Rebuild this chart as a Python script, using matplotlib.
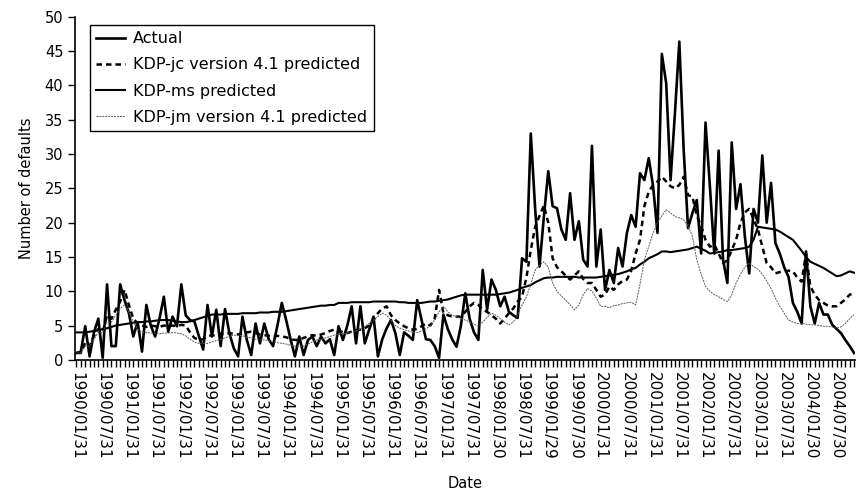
import matplotlib
matplotlib.use('Agg')
import matplotlib.pyplot as plt
from matplotlib.ticker import MultipleLocator

# monthly values, 1990/01 .. 2004/11
actual = [1.0, 1.2, 4.9, 0.5, 4.0, 6.0, 0.3, 11.0, 2.0, 2.0, 11.0, 8.7,
          6.8, 3.4, 5.5, 1.2, 8.0, 5.0, 3.4, 6.0, 9.2, 4.1, 6.3, 4.9,
          11.0, 6.5, 5.8, 5.6, 3.5, 1.5, 8.0, 3.4, 7.3, 2.0, 7.4, 3.9,
          1.7, 0.5, 6.3, 2.9, 0.7, 5.3, 2.4, 5.3, 3.0, 2.0, 5.0, 8.3,
          5.8, 3.0, 0.5, 3.4, 0.7, 2.9, 3.4, 2.0, 3.4, 2.4, 3.0, 0.7,
          4.9, 2.9, 5.0, 7.8, 2.4, 7.8, 2.4, 4.4, 6.3, 0.5, 3.0, 4.6,
          5.8, 3.9, 0.7, 4.0, 3.5, 2.9, 8.7, 5.8, 3.0, 2.9, 2.0, 0.3,
          6.6, 4.5, 3.0, 1.9, 5.0, 9.7, 6.0, 4.0, 2.9, 13.1, 7.3, 11.7,
          10.2, 7.8, 9.2, 7.0, 6.5, 6.1, 14.8, 14.3, 33.0, 22.0, 13.6, 20.9,
          27.5, 22.4, 22.1, 19.0, 17.5, 24.3, 17.5, 20.2, 14.6, 13.6, 31.2, 13.6,
          19.0, 10.2, 13.1, 11.2, 16.3, 13.6, 18.5, 21.1, 19.4, 27.2, 26.2, 29.4,
          25.3, 18.5, 44.6, 40.3, 26.2, 36.0, 46.4, 30.6, 19.2, 21.4, 23.3, 15.5,
          34.6, 25.3, 15.5, 30.5, 14.6, 11.2, 31.7, 22.0, 25.6, 18.0, 12.6, 22.0,
          20.0, 29.8, 20.0, 25.8, 17.0, 15.5, 13.5, 12.1, 8.3, 7.0, 5.3, 15.8,
          7.8, 5.3, 8.3, 6.6, 6.6, 5.1, 4.5, 3.9, 2.9, 2.0, 1.0]

kdp_jc = [1.0, 1.0, 2.5, 2.0, 3.5, 4.5, 4.0, 6.5, 6.0, 7.3, 8.5, 10.2,
          8.0, 6.0, 5.3, 5.0, 4.8, 5.0, 4.9, 4.8, 5.0, 4.9, 5.0, 4.9,
          5.1, 5.0, 4.0, 3.2, 2.9, 3.0, 3.4, 3.6, 3.5, 3.8, 3.7, 3.9,
          3.8, 3.7, 3.9, 4.0, 4.1, 3.9, 3.7, 3.6, 3.5, 3.4, 3.5, 3.4,
          3.3, 3.0, 2.9, 2.9, 3.2, 3.4, 3.6, 3.5, 3.7, 3.9, 4.2, 4.4,
          4.3, 4.0, 3.9, 4.1, 4.3, 4.4, 4.6, 5.0, 5.8, 6.8, 7.5, 7.8,
          6.5, 5.8, 5.3, 4.9, 4.6, 4.4, 4.5, 4.9, 5.3, 5.0, 6.0, 10.2,
          6.8, 6.5, 6.3, 6.3, 6.3, 7.0, 7.8, 8.3, 8.0, 7.3, 7.0, 6.5,
          6.0, 5.3, 6.0, 6.8, 7.5, 8.5, 9.2, 12.0, 16.0, 19.4, 21.0, 22.5,
          20.0, 14.8, 13.5, 12.9, 12.3, 11.7, 12.3, 12.9, 11.8, 11.2, 11.2, 10.2,
          9.2, 9.5, 10.7, 10.2, 11.0, 11.5, 11.7, 13.0, 15.5, 17.5, 22.4, 24.5,
          25.5, 26.0, 26.7, 26.0, 25.3, 25.0, 25.5, 26.7, 24.0, 23.8, 21.0, 19.5,
          17.5, 16.5, 16.8, 15.5, 14.1, 14.5, 16.0, 17.5, 20.0, 21.5, 22.0, 20.5,
          19.0, 16.5, 14.1, 13.5, 12.6, 12.8, 12.9, 13.0, 12.9, 12.0, 11.4, 15.5,
          10.7, 9.5, 8.7, 8.3, 7.9, 7.8, 7.8, 8.3, 8.8, 9.5, 9.7]

kdp_ms = [4.0, 4.0, 4.0, 4.1, 4.2, 4.3, 4.5, 4.6, 4.8, 5.0, 5.1, 5.2,
          5.3, 5.4, 5.5, 5.5, 5.6, 5.6, 5.7, 5.8, 5.8, 5.8, 5.7, 5.6,
          5.5, 5.5, 5.6, 5.8, 6.0, 6.2, 6.4, 6.6, 6.6, 6.6, 6.7, 6.7,
          6.7, 6.7, 6.8, 6.8, 6.8, 6.8, 6.9, 6.9, 6.9, 7.0, 7.0, 7.0,
          7.1, 7.2, 7.3, 7.4, 7.5, 7.6, 7.7, 7.8, 7.9, 7.9, 8.0, 8.0,
          8.3, 8.3, 8.3, 8.4, 8.4, 8.4, 8.4, 8.4, 8.5, 8.5, 8.5, 8.5,
          8.5, 8.5, 8.4, 8.4, 8.3, 8.3, 8.3, 8.3, 8.4, 8.5, 8.5, 8.6,
          8.7, 8.8, 9.0, 9.2, 9.4, 9.5, 9.5, 9.5, 9.5, 9.5, 9.5, 9.5,
          9.5, 9.6, 9.7, 9.8, 10.0, 10.2, 10.5, 10.7, 10.9, 11.3, 11.6, 11.9,
          12.0, 12.0, 12.1, 12.1, 12.1, 12.1, 12.1, 12.0, 12.0, 12.0, 12.0, 12.0,
          12.1, 12.2, 12.3, 12.4, 12.5, 12.7, 12.9, 13.2, 13.4, 13.9, 14.3, 14.8,
          15.1, 15.4, 15.8, 15.8, 15.7, 15.8, 15.9, 16.0, 16.1, 16.3, 16.5, 16.2,
          15.9, 15.5, 15.6, 15.7, 15.8, 16.0, 16.0, 16.1, 16.2, 16.3, 16.5, 17.5,
          19.4, 19.3, 19.2, 19.1, 19.0, 18.7, 18.3, 17.9, 17.5, 16.7, 15.9, 15.0,
          14.3, 14.0, 13.7, 13.4, 13.0, 12.6, 12.2, 12.3, 12.6, 12.9, 12.7]

kdp_jm = [1.0, 1.0, 2.0, 2.0, 3.0, 4.0, 4.0, 5.5, 5.5, 6.5, 7.5, 8.0,
          7.0, 5.5, 4.5, 4.0, 4.0, 3.9, 3.9, 3.8, 3.9, 3.9, 4.0, 3.9,
          3.8, 3.5, 3.0, 2.6, 2.4, 2.4, 2.4, 2.6, 2.8, 3.0, 3.2, 3.4,
          3.6, 3.6, 3.5, 3.3, 3.2, 3.0, 2.9, 2.9, 2.8, 2.6, 2.5, 2.4,
          2.3, 2.1, 2.0, 1.9, 2.0, 2.3, 2.6, 2.9, 3.0, 3.2, 3.4, 3.6,
          3.7, 3.8, 3.9, 4.0, 4.2, 4.5, 4.9, 5.3, 5.8, 6.3, 6.8, 6.5,
          5.8, 5.0, 4.6, 4.4, 4.2, 4.0, 4.0, 4.2, 4.5, 5.0, 5.8, 7.0,
          7.8, 7.0, 6.5, 6.3, 6.0, 5.8, 5.5, 5.2, 4.9, 5.5, 6.2, 6.8,
          6.5, 6.0, 5.5, 5.1, 5.5, 6.5, 8.0, 9.2, 11.0, 13.1, 13.8, 14.3,
          13.5, 11.2, 10.0, 9.3, 8.7, 8.0, 7.3, 8.0, 9.5, 10.4, 10.0, 9.0,
          7.8, 7.8, 7.6, 7.9, 8.0, 8.2, 8.3, 8.4, 8.0, 11.0, 14.6, 16.5,
          18.5, 20.0, 21.0, 21.9, 21.4, 20.9, 20.7, 20.4, 19.5, 18.0, 14.6, 12.5,
          10.7, 10.0, 9.5, 9.2, 8.8, 8.5, 9.5, 11.2, 12.5, 13.5, 14.1, 13.6,
          13.2, 12.5, 11.5, 10.4, 9.0, 7.8, 6.8, 5.8, 5.5, 5.3, 5.3, 5.2,
          5.1, 5.1, 5.0, 4.9, 4.9, 4.8, 4.6, 4.8, 5.3, 6.0, 6.6]

date_labels = ['1990/01/31', '1990/07/31', '1991/01/31', '1991/07/31',
               '1992/01/31', '1992/07/31', '1993/01/31', '1993/07/31',
               '1994/01/31', '1994/07/31', '1995/01/31', '1995/07/31',
               '1996/01/31', '1996/07/31', '1997/01/31', '1997/07/31',
               '1998/01/30', '1998/07/31', '1999/01/29', '1999/07/30',
               '2000/01/31', '2000/07/31', '2001/01/31', '2001/07/31',
               '2002/01/31', '2002/07/31', '2003/01/31', '2003/07/31',
               '2004/01/30', '2004/07/30']

months = list(range(len(actual)))

fig = plt.figure(figsize=(8.64, 4.97), dpi=100)
ax = fig.add_axes([0.087, 0.276, 0.903, 0.690])

ax.plot(months, actual, '-', color='black', lw=1.9, label='Actual')
ax.plot(months, kdp_jc, color='black', lw=1.8, linestyle=(0, (2.2, 1.6)),
        label='KDP-jc version 4.1 predicted')
ax.plot(months, kdp_ms, '-', color='black', lw=1.5, label='KDP-ms predicted')
ax.plot(months, kdp_jm, color='0.35', lw=0.7, linestyle=(0, (2, 1)),
        label='KDP-jm version 4.1 predicted')

ax.set_xlim(-0.3, len(actual) - 0.7)
ax.set_ylim(0, 50)
ax.yaxis.set_major_locator(MultipleLocator(5))
ax.set_xticks(range(0, 6 * len(date_labels), 6))
ax.set_xticklabels(date_labels, rotation=-90, fontsize=11)
ax.xaxis.set_minor_locator(MultipleLocator(1))
ax.tick_params(axis='x', which='both', direction='out', length=5, width=1)
ax.tick_params(axis='y', direction='out', length=5, width=1, labelsize=10.5)

for s in ['top', 'right']:
    ax.spines[s].set_visible(False)
ax.spines['left'].set_linewidth(1.2)
ax.spines['bottom'].set_linewidth(1.2)

ax.set_ylabel('Number of defaults', fontsize=10.5, labelpad=8)
ax.set_xlabel('Date', fontsize=10.5, labelpad=12)

leg = ax.legend(loc='upper left', bbox_to_anchor=(0.019, 0.977),
                borderaxespad=0, fontsize=11.5, fancybox=False,
                edgecolor='black', framealpha=1, handlelength=1.8,
                labelspacing=0.7, handletextpad=0.5)
leg.get_frame().set_linewidth(1.0)

fig.savefig('out.png', dpi=100)
